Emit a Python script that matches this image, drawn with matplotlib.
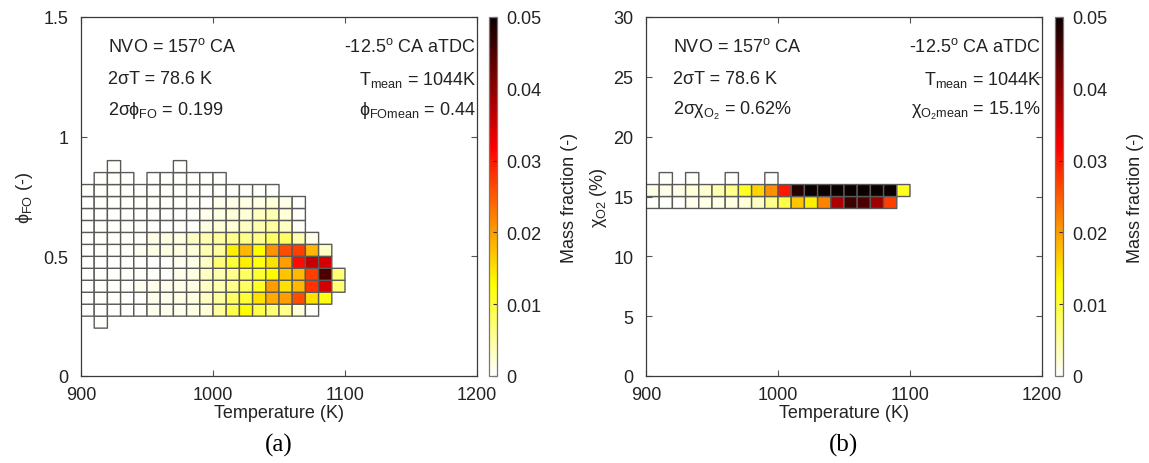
import numpy as np
import matplotlib
matplotlib.use("Agg")
import matplotlib.pyplot as plt
from matplotlib.ticker import FixedLocator, FuncFormatter

plt.rcParams['font.family'] = ['Liberation Sans', 'DejaVu Sans']
plt.rcParams['mathtext.default'] = 'regular'
plt.rcParams['mathtext.fontset'] = 'custom'
plt.rcParams['mathtext.rm'] = 'Liberation Sans'
plt.rcParams['mathtext.it'] = 'Liberation Sans'

N = None

# ---------------- data ----------------
T_edges = [900, 910, 920, 930, 940, 950, 960, 970, 980, 990, 1000,
           1010, 1020, 1030, 1040, 1050, 1060, 1070, 1080, 1090, 1100]
phi_edges = [0.20, 0.25, 0.30, 0.35, 0.40, 0.45, 0.50, 0.55, 0.60,
             0.65, 0.70, 0.75, 0.80, 0.85, 0.90]
o2_edges = [14, 15, 16, 17]

w = 0.0002  # outlined but (almost) empty bins
# mass fraction, panel (a): rows from phi=0.20 upward, columns from T=900 K
mf_phi = [
    [N, w, N, N, N, N, N, N, N, N, N, N, N, N, N, N, N, N, N, N],
    [w, w, w, w, w, 0.0008, 0.001, 0.001, 0.0015, 0.002, 0.005, 0.009, 0.013, 0.009, 0.007, 0.006, 0.002, 0.0003, N, N],
    [w, w, w, w, w, 0.001, 0.001, 0.0012, 0.0015, 0.003, 0.005, 0.008, 0.010, 0.015, 0.019, 0.020, 0.026, 0.015, 0.012, N],
    [w, w, w, w, 0.0008, 0.001, 0.001, 0.0012, 0.0015, 0.003, 0.004, 0.006, 0.008, 0.011, 0.020, 0.015, 0.018, 0.028, 0.035, 0.007],
    [w, w, w, w, w, w, w, 0.001, 0.0015, 0.003, 0.004, 0.006, 0.008, 0.010, 0.013, 0.017, 0.018, 0.027, 0.045, 0.007],
    [w, w, w, w, w, w, w, 0.0008, 0.0012, 0.003, 0.007, 0.010, 0.014, 0.012, 0.015, 0.020, 0.031, 0.036, 0.035, N],
    [w, w, w, w, 0.0008, 0.0012, 0.0015, 0.0015, 0.002, 0.004, 0.005, 0.014, 0.018, 0.013, 0.021, 0.026, 0.027, 0.018, 0.003, N],
    [w, w, w, w, w, 0.0012, 0.0015, 0.0015, 0.003, 0.004, 0.005, 0.006, 0.006, 0.006, 0.008, 0.008, 0.004, 0.001, N, N],
    [w, w, w, w, w, w, w, w, w, 0.0015, 0.002, 0.002, 0.003, 0.004, 0.005, 0.003, 0.0005, N, N, N],
    [w, w, w, w, w, w, w, w, w, 0.001, 0.0015, 0.002, 0.002, 0.003, 0.004, 0.002, 0.0003, N, N, N],
    [w, w, w, w, w, w, w, w, w, w, 0.001, 0.0012, 0.0015, 0.0015, 0.002, 0.0012, 0.0003, N, N, N],
    [w, w, w, w, w, w, w, w, w, w, 0.0003, 0.0003, 0.0003, 0.0003, 0.0003, N, N, N, N, N],
    [N, w, w, w, N, w, w, w, w, w, w, N, N, N, N, N, N, N, N, N],
    [N, N, w, N, N, N, N, w, N, N, N, N, N, N, N, N, N, N, N, N],
]
# mass fraction, panel (b): rows from X_O2=14 % upward
mf_o2 = [
    [0.0003, 0.0003, 0.0003, 0.001, 0.0012, 0.0012, 0.0015, 0.002, 0.003, 0.006, 0.009, 0.017, 0.014, 0.022, 0.038, 0.046, 0.045, 0.039, 0.027, N],
    [0.0012, 0.0012, 0.0012, 0.002, 0.0025, 0.004, 0.006, 0.011, 0.016, 0.021, 0.030, 0.048, 0.055, 0.055, 0.055, 0.055, 0.055, 0.055, 0.055, 0.011],
    [N, w, N, w, N, N, w, N, N, w, N, N, N, N, N, N, N, N, N, N],
]

x_ticks = [900, 1000, 1100, 1200]
phi_ticks = [0, 0.5, 1, 1.5]
o2_ticks = [0, 5, 10, 15, 20, 25, 30]
cb_ticks = [0, 0.01, 0.02, 0.03, 0.04, 0.05]

ann_left_a = ["NVO = 157$^{o}$ CA", "2σT = 78.6 K", "2σϕ$_{FO}$ = 0.199"]
ann_right_a = ["-12.5$^{o}$ CA aTDC", "T$_{mean}$ = 1044K", "ϕ$_{FOmean}$ = 0.44"]
ann_left_b = ["NVO = 157$^{o}$ CA", "2σT = 78.6 K", "2σχ$_{O_{2}}$ = 0.62%"]
ann_right_b = ["-12.5$^{o}$ CA aTDC", "T$_{mean}$ = 1044K", "χ$_{O_{2}mean}$ = 15.1%"]

# ---------------- figure ----------------
W, H = 1149, 464
fig = plt.figure(figsize=(W / 100, H / 100), dpi=100)

FS = 13
edge = '#3a3a3a'


def px(x0, y0, x1, y1):
    return [x0 / W, 1 - y1 / H, (x1 - x0) / W, (y1 - y0) / H]


def panel(ax_rect, cb_rect, yedges, data, ylim, yticks, ylabel, ann_l, ann_r, tag, ylpad):
    ax = fig.add_axes(px(*ax_rect))
    cax = fig.add_axes(px(*cb_rect))
    Z = np.ma.masked_invalid(np.array(data, dtype=float))
    m = ax.pcolor(T_edges, yedges, Z, cmap='hot_r', vmin=0, vmax=0.05,
                  edgecolors='#5a5a5a', linewidths=1.0)
    ax.set_xlim(900, 1200)
    ax.set_ylim(*ylim)
    ax.xaxis.set_major_locator(FixedLocator(x_ticks))
    ax.yaxis.set_major_locator(FixedLocator(yticks))
    ax.yaxis.set_major_formatter(FuncFormatter(lambda v, p: f"{v:g}"))
    ax.tick_params(direction='in', length=4, width=0.8, color='#555555',
                   top=True, right=True, labelsize=FS, labelcolor='#222222')
    ax.tick_params(axis='y', pad=9)
    ax.tick_params(axis='x', pad=7)
    for s in ax.spines.values():
        s.set_color(edge)
        s.set_linewidth(0.9)
    ax.set_xlabel("Temperature (K)", fontsize=FS, labelpad=1, color='#222222')
    ax.set_ylabel(ylabel, fontsize=FS, labelpad=ylpad, color='#222222')
    ys = [0.918, 0.828, 0.742]
    for t, y in zip(ann_l, ys):
        ax.text(0.068, y, t, transform=ax.transAxes, fontsize=FS, va='center',
                ha='left', color='#222222')
    for t, y in zip(ann_r, ys):
        ax.text(0.998, y, t, transform=ax.transAxes, fontsize=FS, va='center',
                ha='right', color='#222222')
    cb = fig.colorbar(m, cax=cax)
    cb.set_ticks(cb_ticks)
    cb.ax.yaxis.set_major_formatter(FuncFormatter(lambda v, p: f"{v:g}"))
    cb.ax.tick_params(direction='in', length=3, width=0.8, color='#333333',
                      labelsize=FS, pad=7, labelcolor='#222222')
    cb.outline.set_edgecolor('#777777')
    cb.outline.set_linewidth(0.9)
    cb.set_label("Mass fraction (-)", fontsize=FS, labelpad=14, color='#222222')
    fig.text((ax_rect[0] + ax_rect[2]) / 2 / W, 1 - 445 / H, tag,
             family='Liberation Serif', fontsize=18, ha='center', va='center')
    return ax


panel((81, 18, 477, 377), (489, 18, 497, 377), phi_edges, mf_phi, (0, 1.5),
      phi_ticks, "ϕ$_{FO}$ (-)", ann_left_a, ann_right_a, "(a)", 6)
panel((646, 18, 1042, 377), (1055, 18, 1063, 377), o2_edges, mf_o2, (0, 30),
      o2_ticks, "χ$_{O2}$ (%)", ann_left_b, ann_right_b, "(b)", 3)

fig.savefig("out.png", dpi=100)
